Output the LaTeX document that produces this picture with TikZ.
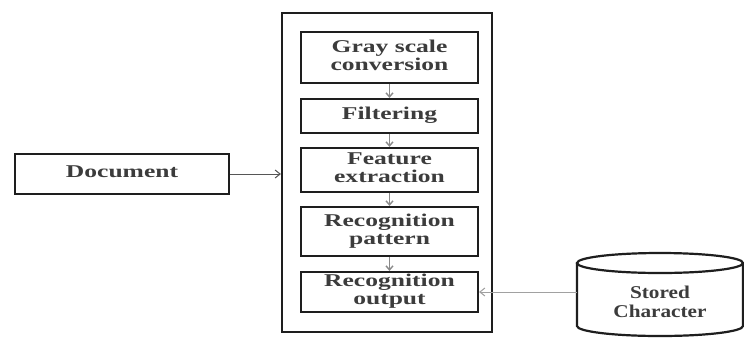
\documentclass[tikz,border=0pt]{standalone}
\usepackage{fontspec}
\usepackage{graphicx}
\setmainfont{Liberation Serif}
\usetikzlibrary{arrows.meta}
\definecolor{txt}{HTML}{3C3C3C}
\definecolor{edge}{HTML}{1E1E1E}
\definecolor{arr}{HTML}{8A8A8A}
\newcommand{\boxtxt}[1]{\scalebox{1.42}[1]{\begin{tabular}{@{}c@{}}#1\end{tabular}}}
\newcommand{\cyltxt}[1]{\scalebox{1.18}[1]{\begin{tabular}{@{}c@{}}#1\end{tabular}}}
\tikzset{
  stepbox/.style={draw=edge, line width=2.2pt, rectangle, minimum width=177pt, inner sep=0pt, text=txt,
    font=\fontsize{18}{18}\selectfont\bfseries, align=center},
  flow/.style={draw=arr, line width=1.4pt, -{Straight Barb[length=4pt,width=7pt]}},
  feed/.style={draw=#1, line width=1pt, -{Straight Barb[length=5pt,width=8pt]}},
}
\begin{document}
\begin{tikzpicture}[x=1pt,y=-1pt]
\useasboundingbox (0,0) rectangle (744,338);
\fill[white] (0,0) rectangle (744,338);
% outer frame
\node[draw=edge, line width=2.2pt, minimum width=210pt, minimum height=319pt, inner sep=0pt] (outer) at (387,172.5) {};
% steps
\node[stepbox, minimum height=51pt] (b1) at (389.5,57.5) {\boxtxt{Gray scale\\conversion}};
\node[stepbox, minimum height=34pt] (b2) at (389.5,116) {\boxtxt{Filtering}};
\node[stepbox, minimum height=44pt] (b3) at (389.5,170) {\boxtxt{Feature\\extraction}};
\node[stepbox, minimum height=49pt] (b4) at (389.5,231.5) {\boxtxt{Recognition\\pattern}};
\node[stepbox, minimum height=40pt] (b5) at (389.5,292) {\boxtxt{Recognition\\output}};
\draw[flow] (b1) -- (b2);
\draw[flow] (b2) -- (b3);
\draw[flow] (b3) -- (b4);
\draw[flow] (b4) -- (b5);
% document
\node[stepbox, minimum width=214pt, minimum height=40pt] (doc) at (122,174) {\boxtxt{Document}};
\draw[feed=edge!75] (doc.east) -- (doc.east -| outer.west);
% stored character cylinder
\draw[edge, line width=2.2pt] (577,263) -- (577,326) arc[start angle=180, end angle=0, x radius=83, y radius=10]
  -- (743,263);
\draw[edge, line width=2.2pt] (660,263) ellipse[x radius=83, y radius=10];
\node[minimum width=166pt, minimum height=50pt, inner sep=0pt, text=txt,
  font=\fontsize{18}{19}\selectfont\bfseries, align=center] (sc) at (660,304) {\cyltxt{Stored\\Character}};
\coordinate (cyl) at (577,292);
\draw[feed=arr!80] (cyl) -- (cyl -| b5.east);
\end{tikzpicture}
\end{document}
